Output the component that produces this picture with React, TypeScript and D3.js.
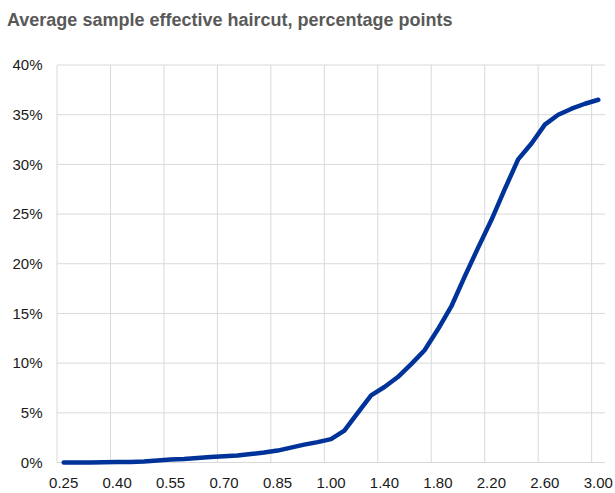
import React from "react";
import * as d3 from "d3";

const categories: string[] = [
  "0.25", "0.29", "0.33", "0.36", "0.40", "0.44", "0.48", "0.51", "0.55", "0.59",
  "0.63", "0.66", "0.70", "0.74", "0.78", "0.81", "0.85", "0.89", "0.93", "0.96",
  "1.00", "1.10", "1.20", "1.30", "1.40", "1.50", "1.60", "1.70", "1.80", "1.90",
  "2.00", "2.10", "2.20", "2.30", "2.40", "2.50", "2.60", "2.70", "2.80", "2.90",
  "3.00",
];

const haircut: number[] = [
  0, 0, 0, 0.03, 0.05, 0.05, 0.1, 0.2, 0.3, 0.35,
  0.45, 0.55, 0.62, 0.7, 0.85, 1.0, 1.2, 1.5, 1.8, 2.05,
  2.35, 3.2, 5.0, 6.75, 7.6, 8.6, 9.9, 11.3, 13.4, 15.7,
  18.7, 21.6, 24.4, 27.5, 30.5, 32.1, 34.0, 35.0, 35.6, 36.1,
  36.5,
];

const yTicks: number[] = [0, 5, 10, 15, 20, 25, 30, 35, 40];
const labelEvery = 4;

const title = "Average sample effective haircut, percentage points";

export default function App() {
  const width = 615;
  const height = 493;
  const left = 57;
  const right = 605;
  const top = 65;
  const bottom = 462.5;

  const x = d3.scaleBand<string>().domain(categories).range([left, right]).padding(0);
  const y = d3.scaleLinear().domain([0, 40]).range([bottom, top]);
  const cx = (c: string) => (x(c) as number) + x.bandwidth() / 2;

  const line = d3
    .line<number>()
    .x((_, i) => cx(categories[i]))
    .y((d) => y(d));

  const gridCats = categories.filter((_, i) => i % labelEvery === 0);
  const font = "Liberation Sans, Arial, sans-serif";

  return (
    <svg width={width} height={height} style={{ position: "absolute", left: 0, top: 0 }}>
      <rect width={width} height={height} fill="#ffffff" />
      <text x={7} y={26} fontFamily={font} fontSize={18} fontWeight="bold" fill="#595959">
        {title}
      </text>
      {yTicks.map((t) => (
        <line key={"h" + t} x1={left} x2={right} y1={y(t)} y2={y(t)} stroke="#d9d9d9" strokeWidth={1} />
      ))}
      {gridCats.map((c) => (
        <line key={"v" + c} x1={x(c) as number} x2={x(c) as number} y1={top} y2={bottom} stroke="#d9d9d9" strokeWidth={1} />
      ))}
      {yTicks.map((t) => (
        <text key={"yl" + t} x={42.5} y={y(t)} dy="0.35em" textAnchor="end" fontFamily={font} fontSize={15} fill="#1a1a1a">
          {t + "%"}
        </text>
      ))}
      {gridCats.map((c) => (
        <text key={"xl" + c} x={cx(c)} y={483} dy="0.35em" textAnchor="middle" fontFamily={font} fontSize={15} fill="#1a1a1a">
          {c}
        </text>
      ))}
      <path d={line(haircut) || ""} fill="none" stroke="#003399" strokeWidth={4.5} strokeLinejoin="round" strokeLinecap="round" />
    </svg>
  );
}
